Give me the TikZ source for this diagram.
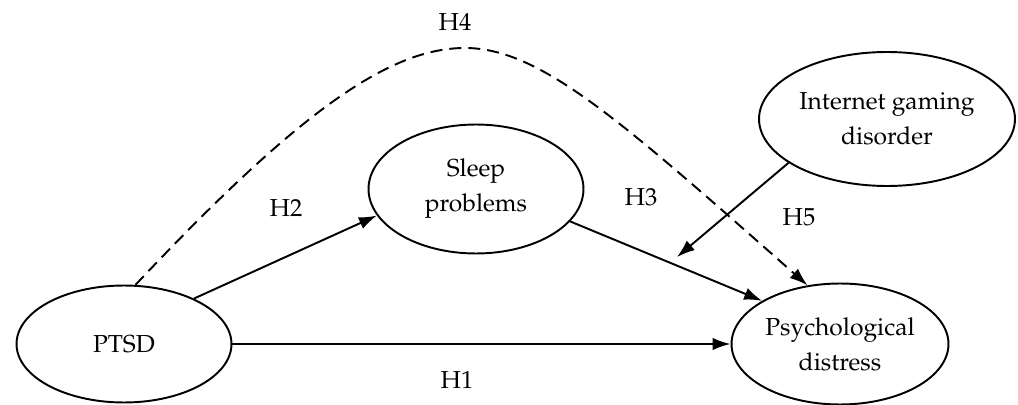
\documentclass[tikz,border=0pt]{standalone}
\usepackage[T1]{fontenc}
\usepackage{mathpazo}
\usetikzlibrary{shapes.geometric,arrows.meta}
\tikzset{
  oval/.style={ellipse,draw,line width=1.1pt,align=center,inner sep=0pt,
    font=\fontsize{14}{20}\selectfont},
  lab/.style={font=\fontsize{14}{20}\selectfont},
  conn/.style={line width=1.1pt,-{Latex[length=0.36cm,width=0.25cm]}},
  dconn/.style={conn,dash pattern=on 0.24cm off 0.14cm}
}
\begin{document}
\begin{tikzpicture}[x=0.02cm,y=-0.02cm]
\useasboundingbox (0,0) rectangle (1018,405);
\node[oval,minimum width=4.3cm,minimum height=2.34cm] (ptsd) at (124,344) {PTSD};
\node[oval,minimum width=4.3cm,minimum height=2.58cm] (sleep) at (476,189) {Sleep\\problems};
\node[oval,minimum width=5.12cm,minimum height=2.68cm] (igd) at (887,119) {Internet gaming\\disorder};
\node[oval,minimum width=4.34cm,minimum height=2.42cm] (pd) at (840,344) {Psychological\\distress};
\coordinate (h5end) at (677,257);
\coordinate (peak) at (465,48);
\draw[conn] (ptsd.east) -- (pd.west);
\draw[conn] (ptsd.33) -- (sleep.195);
\draw[conn] (sleep.341) -- (pd.151);
\draw[conn] (igd.204) -- (h5end);
\draw[dconn] (ptsd.79) .. controls (300,110) and (390,48) .. (peak)
   .. controls (540,48) and (620,120) .. (pd.119);
\node[lab] (l4) at (455,22) {H4};
\node[lab] (l2) at (286,208) {H2};
\node[lab] (l3) at (641,197) {H3};
\node[lab] (l5) at (799,217) {H5};
\node[lab] (l1) at (457,380) {H1};
\end{tikzpicture}
\end{document}
